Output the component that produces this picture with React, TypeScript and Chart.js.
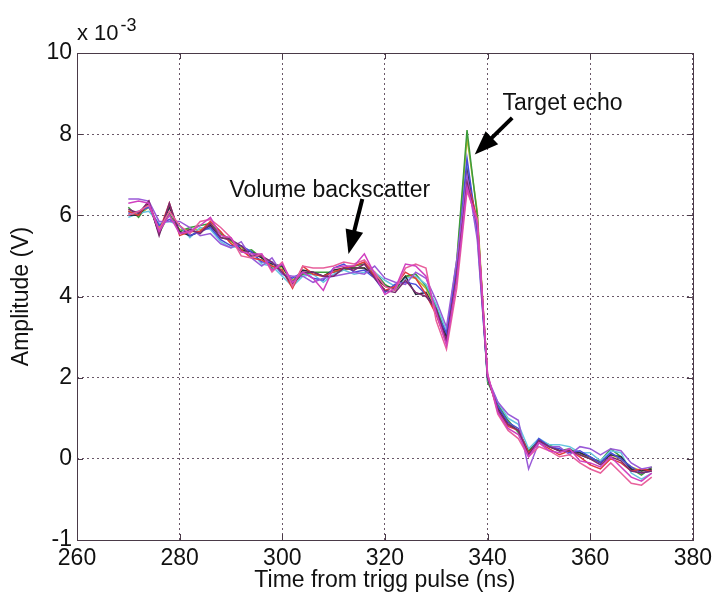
import { useEffect, useRef } from 'react';
import { Chart, registerables } from 'chart.js';

Chart.register(...registerables);

// Sample times (ns after the trigger pulse)
const TIME_NS = [
  270, 272, 274, 276, 278, 280, 282, 284, 286, 288, 290, 292, 294, 296, 298, 300, 302, 304,
  306, 308, 310, 312, 314, 316, 318, 320, 322, 324, 326, 328, 330, 332, 334, 336, 338, 340,
  342, 344, 346, 348, 350, 352, 354, 356, 358, 360, 362, 364, 366, 368, 370, 372,
];

// Received amplitude for each recorded pulse, in units of 1e-3 V
const PULSE_1 = [6.3, 6.35, 6.3, 5.6, 6.0, 5.55, 5.6, 5.75, 5.95, 5.5, 5.45, 5.1, 5.05, 5.05, 4.65, 4.8, 4.35, 4.6, 4.45, 4.15, 4.7, 4.75, 4.75, 5.05, 4.55, 4.05, 4.2, 4.8, 4.75, 4.5, 3.6, 2.8, 4.4, 6.7, 5.8, 2.1, 1.15, 0.75, 0.6, 0.05, 0.4, 0.2, 0.15, 0.25, -0.05, -0.1, -0.2, 0.05, -0.2, -0.45, -0.55, -0.35];
const PULSE_2 = [6.0, 6.1, 6.25, 5.65, 6.1, 5.75, 5.55, 5.85, 5.9, 5.7, 5.45, 5.0, 4.95, 5.05, 4.6, 4.85, 4.25, 4.75, 4.7, 4.7, 4.75, 4.85, 4.8, 4.9, 4.6, 4.25, 4.15, 4.7, 4.8, 4.7, 3.4, 2.7, 4.2, 6.6, 5.9, 2.1, 1.1, 0.7, 0.5, 0.05, 0.3, 0.2, 0.05, 0.1, -0.1, -0.25, -0.35, -0.1, -0.35, -0.6, -0.65, -0.45];
const PULSE_3 = [6.15, 6.05, 6.35, 5.5, 6.3, 5.55, 5.65, 5.55, 5.8, 5.45, 5.4, 5.25, 5.0, 5.0, 4.85, 4.6, 4.3, 4.6, 4.6, 4.5, 4.5, 4.7, 4.65, 4.8, 4.45, 4.15, 4.1, 4.4, 4.1, 4.0, 3.7, 2.9, 4.5, 6.8, 5.8, 2.0, 1.2, 0.85, 0.7, 0.1, 0.45, 0.3, 0.2, 0.2, 0.1, 0.0, -0.15, 0.05, -0.05, -0.3, -0.35, -0.3];
const PULSE_4 = [6.4, 6.4, 6.35, 5.85, 5.85, 5.85, 5.7, 5.5, 5.55, 5.3, 5.2, 5.35, 4.95, 4.75, 4.95, 4.55, 4.5, 4.5, 4.35, 4.45, 4.5, 4.55, 4.6, 4.55, 4.75, 4.45, 4.35, 4.3, 4.6, 4.45, 3.9, 3.25, 4.9, 7.0, 5.4, 2.0, 1.4, 1.1, 0.95, -0.25, 0.4, 0.3, 0.3, 0.1, 0.3, 0.25, 0.1, 0.25, 0.2, -0.1, -0.25, -0.2];
const PULSE_5 = [6.1, 6.0, 6.35, 5.6, 6.3, 5.5, 5.6, 5.6, 5.85, 5.6, 5.3, 5.15, 4.95, 4.9, 4.75, 4.65, 4.2, 4.75, 4.55, 4.5, 4.6, 4.7, 4.75, 4.85, 4.5, 4.15, 4.25, 4.6, 4.45, 4.05, 3.55, 2.85, 4.5, 6.9, 5.9, 2.05, 1.2, 0.8, 0.7, 0.15, 0.4, 0.25, 0.1, 0.2, 0.05, -0.15, -0.25, 0.0, -0.1, -0.3, -0.25, -0.3];
const PULSE_6 = [6.05, 6.1, 6.2, 5.75, 5.9, 5.75, 5.5, 5.6, 5.7, 5.4, 5.25, 5.25, 5.1, 4.85, 4.85, 4.55, 4.45, 4.6, 4.45, 4.4, 4.7, 4.8, 4.6, 4.65, 4.45, 4.1, 4.3, 4.35, 4.3, 4.05, 3.6, 3.1, 4.7, 7.4, 5.6, 2.0, 1.3, 0.9, 0.75, 0.1, 0.5, 0.3, 0.25, 0.15, 0.2, 0.05, -0.1, 0.15, 0.0, -0.2, -0.35, -0.3];
const PULSE_7 = [6.0, 6.0, 6.3, 5.55, 6.2, 5.6, 5.5, 5.6, 5.75, 5.45, 5.4, 5.15, 5.1, 4.95, 4.8, 4.75, 4.35, 4.65, 4.6, 4.5, 4.65, 4.7, 4.7, 4.7, 4.5, 4.25, 4.2, 4.5, 4.05, 4.1, 3.65, 3.0, 4.6, 7.1, 5.7, 2.0, 1.25, 0.85, 0.7, 0.15, 0.45, 0.3, 0.2, 0.2, 0.15, 0.05, -0.1, 0.1, 0.05, -0.25, -0.3, -0.25];
const PULSE_8 = [5.95, 6.05, 6.1, 5.8, 5.85, 5.75, 5.45, 5.7, 5.65, 5.35, 5.2, 5.25, 5.1, 4.8, 4.75, 4.5, 4.25, 4.5, 4.55, 4.35, 4.55, 4.65, 4.55, 4.6, 4.6, 4.4, 4.25, 4.45, 4.5, 4.3, 3.8, 3.15, 4.6, 7.3, 5.5, 1.95, 1.4, 1.0, 0.85, 0.25, 0.5, 0.35, 0.35, 0.3, 0.15, 0.15, -0.05, 0.2, 0.15, -0.35, -0.5, -0.35];
const PULSE_9 = [6.2, 5.95, 6.3, 5.55, 6.05, 5.6, 5.7, 5.75, 5.8, 5.55, 5.4, 5.1, 5.15, 4.95, 4.7, 4.75, 4.3, 4.55, 4.6, 4.6, 4.6, 4.65, 4.75, 4.8, 4.6, 4.3, 4.15, 4.5, 4.55, 4.25, 3.75, 3.05, 4.9, 8.1, 6.0, 1.9, 1.35, 0.95, 0.65, 0.2, 0.45, 0.35, 0.2, 0.25, 0.1, 0.0, -0.05, 0.25, 0.05, -0.25, -0.4, -0.2];
const PULSE_10 = [6.1, 6.0, 6.2, 5.7, 6.0, 5.65, 5.65, 5.65, 5.75, 5.55, 5.35, 5.2, 5.1, 5.0, 4.75, 4.7, 4.4, 4.6, 4.55, 4.5, 4.65, 4.65, 4.7, 4.7, 4.55, 4.25, 4.2, 4.5, 4.45, 4.2, 3.7, 3.0, 4.8, 7.9, 6.1, 2.0, 1.3, 0.9, 0.7, 0.2, 0.45, 0.3, 0.2, 0.2, 0.15, 0.0, -0.1, 0.1, 0.0, -0.2, -0.3, -0.25];

const PULSES = [PULSE_1, PULSE_2, PULSE_3, PULSE_4, PULSE_5, PULSE_6, PULSE_7, PULSE_8, PULSE_9, PULSE_10];
const PULSE_COLORS = [
  '#d040c0', '#e8609c', '#7a2a70', '#9a5ad8', '#e03a3a',
  '#4a4ad8', '#2c2c3c', '#66c4e0', '#3c9c3c', '#b8b830',
];

// Axis ticks
const X_TICKS = [260, 280, 300, 320, 340, 360, 380];
const Y_TICKS = [-2, 0, 2, 4, 6, 8, 10];
const Y_TICK_LABELS = ['-1', '0', '2', '4', '6', '8', '10'];

// Callouts: text anchor and arrow (tail -> head), in data units
const CALLOUTS = [
  { text: 'Volume backscatter', at: [289.7, 6.45], tail: [315.6, 6.4], head: [312.9, 5.05] },
  { text: 'Target echo', at: [342.9, 8.6], tail: [344.8, 8.4], head: [337.5, 7.5] },
];

const FONT = "'Liberation Sans', Arial, Helvetica, sans-serif";
const AXIS_COLOR = '#4a3a48';
const GRID_COLOR = '#6a5868';

const frame = {
  id: 'frame',
  afterDatasetsDraw(chart: any) {
    const { ctx, chartArea: a, scales } = chart;
    const xs = scales.x;
    const ys = scales.y;
    ctx.save();
    ctx.setLineDash([]);
    ctx.strokeStyle = AXIS_COLOR;
    ctx.lineWidth = 1;
    const tick = 6;
    ctx.beginPath();
    for (const v of X_TICKS) {
      const px = Math.round(xs.getPixelForValue(v)) + 0.5;
      ctx.moveTo(px, a.bottom); ctx.lineTo(px, a.bottom - tick);
      ctx.moveTo(px, a.top); ctx.lineTo(px, a.top + tick);
    }
    for (const v of Y_TICKS) {
      const py = Math.round(ys.getPixelForValue(v)) + 0.5;
      ctx.moveTo(a.left, py); ctx.lineTo(a.left + tick, py);
      ctx.moveTo(a.right, py); ctx.lineTo(a.right - tick, py);
    }
    ctx.stroke();
    ctx.strokeRect(Math.round(a.left) + 0.5, Math.round(a.top) + 0.5,
      Math.round(a.right - a.left), Math.round(a.bottom - a.top));

    // exponent of the y axis
    ctx.fillStyle = '#111';
    ctx.textBaseline = 'alphabetic';
    ctx.textAlign = 'left';
    ctx.font = `22px ${FONT}`;
    const base = 'x 10';
    ctx.fillText(base, a.left, a.top - 13);
    const w = ctx.measureText(base).width;
    ctx.font = `18px ${FONT}`;
    ctx.fillText('-3', a.left + w + 2, a.top - 22);

    // callouts
    ctx.font = `23px ${FONT}`;
    ctx.strokeStyle = '#000';
    for (const c of CALLOUTS) {
      ctx.fillStyle = '#111';
      ctx.fillText(c.text, xs.getPixelForValue(c.at[0]), ys.getPixelForValue(c.at[1]));
      const x1 = xs.getPixelForValue(c.tail[0]);
      const y1 = ys.getPixelForValue(c.tail[1]);
      const x2 = xs.getPixelForValue(c.head[0]);
      const y2 = ys.getPixelForValue(c.head[1]);
      const ang = Math.atan2(y2 - y1, x2 - x1);
      const headLen = 24;
      const half = 9;
      const bx = x2 - headLen * Math.cos(ang);
      const by = y2 - headLen * Math.sin(ang);
      ctx.fillStyle = '#000';
      ctx.lineWidth = 4;
      ctx.beginPath();
      ctx.moveTo(x1, y1);
      ctx.lineTo(bx + 2 * Math.cos(ang), by + 2 * Math.sin(ang));
      ctx.stroke();
      ctx.beginPath();
      ctx.moveTo(x2, y2);
      ctx.lineTo(bx + half * Math.sin(ang), by - half * Math.cos(ang));
      ctx.lineTo(bx - half * Math.sin(ang), by + half * Math.cos(ang));
      ctx.closePath();
      ctx.fill();
    }
    ctx.restore();
  },
};

export default function App() {
  const canvasRef = useRef<HTMLCanvasElement | null>(null);

  useEffect(() => {
    const canvas = canvasRef.current;
    if (!canvas) return;
    const datasets = PULSES.map((values, i) => ({
      label: `Pulse ${i + 1}`,
      data: values.map((v, j) => ({ x: TIME_NS[j], y: v })),
      borderColor: PULSE_COLORS[i],
      backgroundColor: PULSE_COLORS[i],
      borderWidth: 1.5,
      pointRadius: 0,
      tension: 0,
      fill: false,
    }));

    const chart = new Chart(canvas, {
      type: 'line',
      data: { datasets },
      plugins: [frame],
      options: {
        responsive: false,
        animation: false,
        layout: { padding: { top: 53, right: 24, left: 0, bottom: 0 } },
        plugins: { legend: { display: false }, tooltip: { enabled: false } },
        scales: {
          x: {
            type: 'linear',
            min: 260,
            max: 380,
            afterBuildTicks: (s: any) => { s.ticks = X_TICKS.map((value) => ({ value })); },
            afterFit: (s: any) => { s.height = 56; },
            grid: { color: GRID_COLOR, lineWidth: 1, drawTicks: false },
            border: { display: false, dash: [2, 3] },
            ticks: {
              color: '#111',
              padding: 5,
              maxRotation: 0,
              font: { family: FONT, size: 23 },
              callback: (v: any) => String(v),
            },
            title: {
              display: true,
              text: 'Time from trigg pulse (ns)',
              color: '#111',
              font: { family: FONT, size: 23 },
              padding: { top: 0, bottom: 2 },
            },
          },
          y: {
            type: 'linear',
            min: -2,
            max: 10,
            afterBuildTicks: (s: any) => { s.ticks = Y_TICKS.map((value) => ({ value })); },
            afterFit: (s: any) => { s.width = 77; },
            grid: { color: GRID_COLOR, lineWidth: 1, drawTicks: false },
            border: { display: false, dash: [2, 3] },
            ticks: {
              color: '#111',
              padding: 5,
              font: { family: FONT, size: 23 },
              callback: (v: any) => {
                const k = Y_TICKS.indexOf(Number(v));
                return k >= 0 ? Y_TICK_LABELS[k] : '';
              },
            },
            title: {
              display: true,
              text: 'Amplitude (V)',
              color: '#111',
              font: { family: FONT, size: 23 },
              padding: { top: 8, bottom: 0 },
            },
          },
        },
      },
    });
    return () => chart.destroy();
  }, []);

  return (
    <canvas
      ref={canvasRef}
      width={717}
      height={596}
      style={{ position: 'fixed', left: 0, top: 0, background: '#fff' }}
    />
  );
}
